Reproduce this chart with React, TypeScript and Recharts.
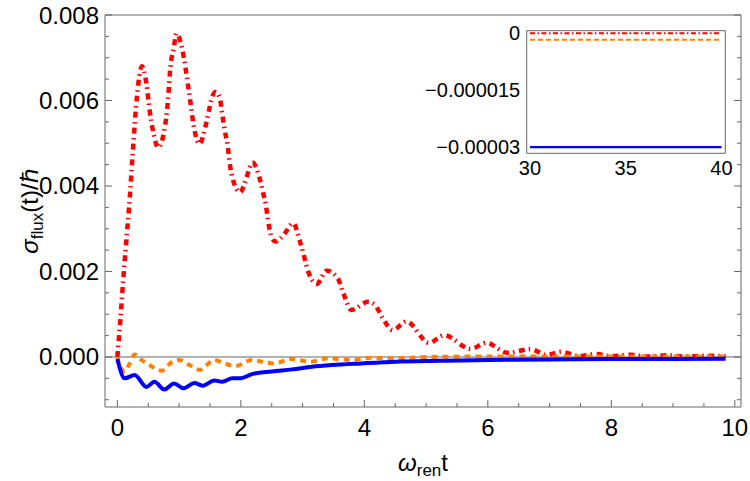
import { LineChart, Line, XAxis, YAxis, ReferenceLine } from 'recharts'

// main panel
const xTicks = [0, 0.5, 1, 1.5, 2, 2.5, 3, 3.5, 4, 4.5, 5, 5.5, 6, 6.5, 7, 7.5, 8, 8.5, 9, 9.5, 10]
const xLabels = [0, 2, 4, 6, 8, 10]
const yTicks = [
  -0.001, -0.0005, 0, 0.0005, 0.001, 0.0015, 0.002, 0.0025, 0.003, 0.0035, 0.004, 0.0045, 0.005,
  0.0055, 0.006, 0.0065, 0.007, 0.0075, 0.008,
]
const yLabels = [0, 0.002, 0.004, 0.006, 0.008]

const redT = [
  0, 0.05, 0.1, 0.15, 0.2, 0.25, 0.3, 0.34, 0.4, 0.47, 0.52, 0.59, 0.66, 0.76, 0.82, 0.86, 0.91,
  0.96, 1.05, 1.1, 1.14, 1.17, 1.25, 1.33, 1.42, 1.48, 1.54, 1.59, 1.66, 1.7, 1.74, 1.79, 1.82,
  1.87, 1.99, 2.09, 2.19, 2.3, 2.36, 2.4, 2.45, 2.5, 2.56, 2.69, 2.85, 2.95, 3.01, 3.09, 3.23,
  3.39, 3.57, 3.66, 3.79, 4.06, 4.17, 4.3, 4.46, 4.68, 5.05, 5.29, 5.72, 5.98, 6.31, 6.69, 6.95,
  7.19, 7.49, 7.73, 8.0, 8.3, 8.6, 8.9, 9.2, 9.5, 9.85,
]
const redV = [
  0, 0.0009, 0.0019, 0.0028, 0.0037, 0.0048, 0.0058, 0.0064, 0.0068, 0.0064, 0.0058, 0.0052,
  0.0049, 0.0053, 0.006, 0.0068, 0.0072, 0.00757, 0.0072, 0.0068, 0.0064, 0.0061, 0.0053,
  0.00498, 0.00535, 0.00574, 0.0061, 0.0062, 0.00605, 0.00566, 0.0053, 0.0049, 0.00453, 0.00416,
  0.00385, 0.0042, 0.00455, 0.0042, 0.00384, 0.0036, 0.0031, 0.0028, 0.0027, 0.00285, 0.00313,
  0.00274, 0.00243, 0.002, 0.00171, 0.00202, 0.00184, 0.00149, 0.0011, 0.00129, 0.00122, 0.0009,
  0.00063, 0.00083, 0.00033, 0.00051, 0.00019, 0.00033, 0.0001, 0.00018, 0.00005, 0.00012,
  0.00002, 0.00007, 0.00002, 0.00005, 0.00001, 0.00004, 0.00001, 0.00003, 0.00002,
]

const orangeT = [
  0, 0.04, 0.12, 0.2, 0.28, 0.39, 0.52, 0.72, 0.89, 1.0, 1.17, 1.33, 1.57, 1.73, 1.92, 2.18, 2.34,
  2.53, 2.82, 3.12, 3.43, 3.79, 4.1, 4.5, 5, 6, 7, 8, 9, 9.85,
]
const orangeV = [
  0, -0.0002, -0.00034, -0.00015, 0.00006, -0.00007, -0.00019, -0.00032, -0.00011, -0.00007,
  -0.00019, -0.0003, -0.00007, -0.00015, -0.00021, -0.00007, -0.00011, -0.00015, -0.00005,
  -0.00011, -0.00003, -0.00007, -0.00002, -0.00003, 0, 0.00001, 0.00001, 0.00001, 0.00001, 0.00001,
]

const blueT = [
  0, 0.12, 0.28, 0.47, 0.6, 0.76, 0.92, 1.07, 1.25, 1.38, 1.57, 1.7, 1.86, 2.0, 2.18, 2.5, 2.83,
  3.15, 3.47, 3.95, 4.51, 5.2, 6, 7, 8, 9, 9.85,
]
const blueV = [
  -0.00005, -0.0005, -0.00042, -0.0007, -0.00058, -0.00076, -0.00062, -0.00073, -0.00061,
  -0.00067, -0.00055, -0.00058, -0.0005, -0.0005, -0.0004, -0.00034, -0.00029, -0.00023,
  -0.00019, -0.00015, -0.00011, -0.00009, -0.00007, -0.00006, -0.00005, -0.00005, -0.00004,
]

// inset (late times)
const insetT = [30, 32.5, 35, 37.5, 40]
const insetRed = [-0.0000002, -0.0000002, -0.0000002, -0.0000002, -0.0000002]
const insetOrange = [-0.0000019, -0.0000019, -0.0000019, -0.0000019, -0.0000019]
const insetBlue = [-0.0000301, -0.0000301, -0.0000301, -0.0000301, -0.0000301]
const insetXLabels = [30, 35, 40]
const insetYLabels = [0, -0.000015, -0.00003]
const insetYText = ['0', '\u22120.000015', '\u22120.00003']

const FRAME = '#666666'
const FONT = '"Liberation Sans", Arial, sans-serif'
const RED = '#ff0000'
const ORANGE = '#ff8000'
const BLUE = '#0000ff'

const pts = (t: number[], v: number[]) => t.map((x, i) => ({ t: x, v: v[i] }))

function BottomTick({ x, y, payload }: any) {
  const major = xLabels.includes(payload.value)
  return (
    <g>
      <line x1={x} x2={x} y1={y} y2={y - (major ? 7 : 4)} stroke={FRAME} />
      {major && (
        <text x={x} y={y + 29} textAnchor="middle" fontSize={24} fontFamily={FONT} fill="#000">
          {payload.value}
        </text>
      )}
    </g>
  )
}

function TopTick({ x, y, payload }: any) {
  const major = xLabels.includes(payload.value)
  return <line x1={x} x2={x} y1={y} y2={y + (major ? 7 : 4)} stroke={FRAME} />
}

function LeftTick({ x, y, payload }: any) {
  const major = yLabels.includes(payload.value)
  return (
    <g>
      <line x1={x} x2={x + (major ? 7 : 4)} y1={y} y2={y} stroke={FRAME} />
      {major && (
        <text x={x - 6} y={y + 8.5} textAnchor="end" fontSize={24} fontFamily={FONT} fill="#000">
          {payload.value.toFixed(3)}
        </text>
      )}
    </g>
  )
}

function RightTick({ x, y, payload }: any) {
  const major = yLabels.includes(payload.value)
  return <line x1={x} x2={x - (major ? 7 : 4)} y1={y} y2={y} stroke={FRAME} />
}

function InsetBottomTick({ x, y, payload }: any) {
  return (
    <text x={x} y={y + 21.5} textAnchor="middle" fontSize={20} fontFamily={FONT} fill="#000">
      {payload.value}
    </text>
  )
}

function InsetLeftTick({ x, y, payload }: any) {
  const i = insetYLabels.indexOf(payload.value)
  return (
    <text x={x - 6.5} y={y + 7} textAnchor="end" fontSize={20} fontFamily={FONT} fill="#000">
      {insetYText[i]}
    </text>
  )
}

function Inset() {
  return (
    <div style={{ position: 'absolute', left: 420, top: 20 }}>
      <LineChart width={320} height={170} margin={{ top: 0, right: 0, bottom: 0, left: 0 }}>
        <XAxis
          xAxisId="b"
          type="number"
          dataKey="t"
          domain={[29.83, 40.2]}
          allowDataOverflow
          ticks={insetXLabels}
          interval={0}
          height={36.7}
          axisLine={{ stroke: FRAME }}
          tickLine={false}
          tickSize={0}
          tickMargin={0}
          tick={InsetBottomTick}
        />
        <XAxis
          xAxisId="t"
          orientation="top"
          type="number"
          domain={[29.83, 40.2]}
          allowDataOverflow
          height={10.7}
          axisLine={{ stroke: FRAME }}
          tickLine={false}
          tick={false}
        />
        <YAxis
          yAxisId="l"
          type="number"
          domain={[-0.0000317, 0.0000005]}
          allowDataOverflow
          ticks={insetYLabels}
          interval={0}
          width={106.7}
          axisLine={{ stroke: FRAME }}
          tickLine={false}
          tickSize={0}
          tickMargin={0}
          tick={InsetLeftTick}
        />
        <YAxis
          yAxisId="r"
          orientation="right"
          type="number"
          domain={[-0.0000317, 0.0000005]}
          allowDataOverflow
          width={14.7}
          axisLine={{ stroke: FRAME }}
          tickLine={false}
          tick={false}
        />
        <Line
          xAxisId="b"
          yAxisId="l"
          data={pts(insetT, insetRed)}
          dataKey="v"
          type="linear"
          stroke={RED}
          strokeWidth={2}
          strokeDasharray="5 2.5 1.5 2.5"
          dot={false}
          isAnimationActive={false}
        />
        <Line
          xAxisId="b"
          yAxisId="l"
          data={pts(insetT, insetOrange)}
          dataKey="v"
          type="linear"
          stroke={ORANGE}
          strokeWidth={2}
          strokeDasharray="5 3"
          dot={false}
          isAnimationActive={false}
        />
        <Line
          xAxisId="b"
          yAxisId="l"
          data={pts(insetT, insetBlue)}
          dataKey="v"
          type="linear"
          stroke={BLUE}
          strokeWidth={2.2}
          dot={false}
          isAnimationActive={false}
        />
      </LineChart>
    </div>
  )
}

export default function App() {
  return (
    <div style={{ position: 'fixed', left: 0, top: 0, width: 750, height: 481, background: '#fff' }}>
      <LineChart width={750} height={481} margin={{ top: 0, right: 0, bottom: 0, left: 0 }}>
        <XAxis
          xAxisId="b"
          type="number"
          dataKey="t"
          domain={[-0.2, 10.1]}
          allowDataOverflow
          ticks={xTicks}
          interval={0}
          height={74}
          axisLine={{ stroke: FRAME }}
          tickLine={false}
          tickSize={0}
          tickMargin={0}
          tick={BottomTick}
        />
        <XAxis
          xAxisId="t"
          orientation="top"
          type="number"
          domain={[-0.2, 10.1]}
          allowDataOverflow
          ticks={xTicks}
          interval={0}
          height={15}
          axisLine={{ stroke: FRAME }}
          tickLine={false}
          tickSize={0}
          tickMargin={0}
          tick={TopTick}
        />
        <YAxis
          yAxisId="l"
          type="number"
          domain={[-0.00117, 0.008]}
          allowDataOverflow
          ticks={yTicks}
          interval={0}
          width={105}
          axisLine={{ stroke: FRAME }}
          tickLine={false}
          tickSize={0}
          tickMargin={0}
          tick={LeftTick}
        />
        <YAxis
          yAxisId="r"
          orientation="right"
          type="number"
          domain={[-0.00117, 0.008]}
          allowDataOverflow
          ticks={yTicks}
          interval={0}
          width={9}
          axisLine={{ stroke: FRAME }}
          tickLine={false}
          tickSize={0}
          tickMargin={0}
          tick={RightTick}
        />
        <ReferenceLine xAxisId="b" yAxisId="l" y={0} stroke={FRAME} strokeWidth={1} />
        <Line
          xAxisId="b"
          yAxisId="l"
          data={pts(redT, redV)}
          dataKey="v"
          type="monotone"
          stroke={RED}
          strokeWidth={4.5}
          strokeDasharray="6 4 1.5 4.5"
          dot={false}
          isAnimationActive={false}
        />
        <Line
          xAxisId="b"
          yAxisId="l"
          data={pts(orangeT, orangeV)}
          dataKey="v"
          type="monotone"
          stroke={ORANGE}
          strokeWidth={4}
          strokeDasharray="6 5"
          dot={false}
          isAnimationActive={false}
        />
        <Line
          xAxisId="b"
          yAxisId="l"
          data={pts(blueT, blueV)}
          dataKey="v"
          type="monotone"
          stroke={BLUE}
          strokeWidth={4}
          dot={false}
          isAnimationActive={false}
        />
      </LineChart>
      <Inset />
      <svg
        width={750}
        height={481}
        style={{ position: 'absolute', left: 0, top: 0, pointerEvents: 'none' }}
        fontFamily={FONT}
      >
        <text x={423} y={471} textAnchor="middle" fontSize={24} fill="#000">
          <tspan fontStyle="italic">ω</tspan>
          <tspan fontSize={17} dy={5}>ren</tspan>
          <tspan dy={-5}>t</tspan>
        </text>
        <text x={38} y={211} textAnchor="middle" fontSize={24} fill="#000" transform="rotate(-90 38 211)">
          <tspan fontStyle="italic">σ</tspan>
          <tspan fontSize={17} dy={5}>flux</tspan>
          <tspan dy={-5}>(t)/ℏ</tspan>
        </text>
      </svg>
    </div>
  )
}
